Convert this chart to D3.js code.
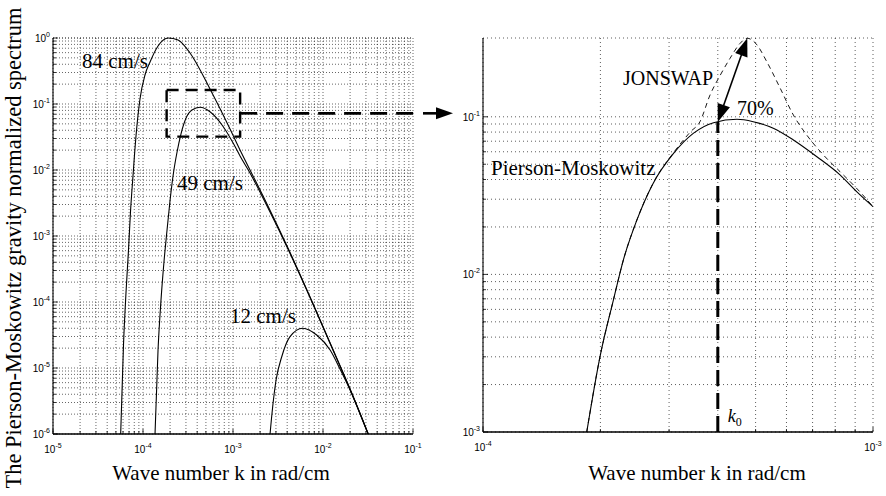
<!DOCTYPE html>
<html>
<head>
<meta charset="utf-8">
<script src="https://cdn.jsdelivr.net/npm/d3@7"></script>
<style>
  html, body { margin: 0; padding: 0; background: #fff; }
  svg { display: block; }
</style>
</head>
<body>
<svg id="chart" width="886" height="496"></svg>
<script>
// ---- Pierson-Moskowitz normalized spectra (wave number k in rad/cm) ----
const k84 = [5.65e-5, 6.07e-5, 6.47e-5, 6.90e-5, 7.26e-5, 7.74e-5, 8.36e-5, 9.26e-5, 1.052e-4, 1.197e-4, 1.469e-4, 1.91e-4,
             2.45e-4, 3.33e-4, 5.55e-4, 9.27e-4, 1.197e-3, 1.545e-3, 2.27e-3, 4.08e-3, 7.18e-3, 1.20e-2, 2.0e-2, 3.18e-2];
const s84 = [1.0e-6, 2.23e-5, 1.37e-4, 6.14e-4, 2.31e-3, 8.11e-3, 0.0327, 0.119, 0.275, 0.433, 0.757, 1.0,
             0.933, 0.593, 0.169, 0.0418, 0.0201, 0.0100, 3.51e-3, 6.58e-4, 1.19e-4, 2.39e-5, 4.81e-6, 1.0e-6];

const k49 = [1.36e-4, 1.469e-4, 1.585e-4, 1.71e-4, 1.85e-4, 2.0e-4, 2.18e-4, 2.39e-4, 2.64e-4, 3.01e-4, 3.50e-4, 4.30e-4,
             5.55e-4, 7.80e-4, 1.007e-3, 1.197e-3, 1.545e-3, 2.27e-3, 4.08e-3, 7.18e-3, 1.20e-2, 2.0e-2, 3.18e-2];
const s49 = [1.0e-6, 1.87e-5, 1.07e-4, 4.04e-4, 1.23e-3, 3.51e-3, 9.01e-3, 0.01875, 0.0351, 0.0614, 0.0811, 0.0891,
             0.0764, 0.0453, 0.0254, 0.0163, 9.01e-3, 3.27e-3, 6.35e-4, 1.17e-4, 2.35e-5, 4.72e-6, 0.99e-6];

const k12 = [2.58e-3, 2.76e-3, 3.01e-3, 3.48e-3, 4.30e-3, 5.94e-3, 8.51e-3, 1.20e-2, 1.545e-2, 2.0e-2, 3.18e-2];
const s12 = [1.0e-6, 2.59e-6, 6.58e-6, 1.48e-5, 2.98e-5, 4.00e-5, 3.16e-5, 1.87e-5, 9.66e-6, 4.64e-6, 1.0e-6];

const speedLabels = ["84 cm/s", "49 cm/s", "12 cm/s"];

// ---- Close-up: Pierson-Moskowitz vs JONSWAP around the peak ----
const kPM = [1.845e-4, 1.995e-4, 2.16e-4, 2.29e-4, 2.48e-4, 2.73e-4, 3.08e-4, 3.46e-4, 3.90e-4, 4.48e-4, 4.93e-4,
             5.55e-4, 6.25e-4, 7.18e-4, 8.23e-4, 9.08e-4, 1.0e-3];
const sPM = [1.0e-3, 3.0e-3, 6.89e-3, 0.01233, 0.0221, 0.0378, 0.0586, 0.0785, 0.0918, 0.0964, 0.0931,
             0.0846, 0.0713, 0.0558, 0.0428, 0.0335, 0.0269];

const kJS = [1.845e-4, 1.995e-4, 2.16e-4, 2.29e-4, 2.48e-4, 2.73e-4, 3.08e-4, 3.40e-4, 3.60e-4, 3.82e-4, 4.06e-4, 4.30e-4,
             4.56e-4, 4.76e-4, 5.04e-4, 5.34e-4, 5.78e-4, 6.25e-4, 6.76e-4, 7.46e-4, 8.23e-4, 8.91e-4, 9.27e-4, 1.0e-3];
const sJS = [1.0e-3, 3.0e-3, 6.89e-3, 0.01233, 0.0221, 0.0379, 0.0592, 0.0801, 0.0931, 0.1374, 0.184, 0.235,
             0.292, 0.315, 0.286, 0.224, 0.152, 0.1026, 0.0767, 0.0573, 0.0449, 0.0369, 0.0333, 0.0269];

const k0 = 4.0e-4;                 // peak wave number marker
const peakGainLabel = "70%";

// zoom window drawn on the overview (k range, S range)
const zoomK = [1.83e-4, 1.2e-3];
const zoomS = [0.032, 0.163];

// tick label exponents
const leftXExp  = [-5, -4, -3, -2, -1];
const leftYExp  = [0, -1, -2, -3, -4, -5, -6];
const rightXExp = [-4, -3];
const rightYExp = [-1, -2, -3];

const xTitle = "Wave number k in rad/cm";
const yTitle = "The Pierson-Moskowitz gravity normalized spectrum";

// ---------------------------------------------------------------------
const SERIF = "'Liberation Serif','Times New Roman',Times,serif";
const SANS  = "'Liberation Sans',Arial,Helvetica,sans-serif";

const svg = d3.select("#chart");

const xL = d3.scaleLog().domain([1e-5, 1e-1]).range([53, 413]);
const yL = d3.scaleLog().domain([1e-6, 1]).range([434, 38]);
const xR = d3.scaleLog().domain([1e-4, 1e-3]).range([483, 873]);
const yR = d3.scaleLog().domain([1e-3, Math.sqrt(0.1)]).range([432, 38]);

function gridValues(lo, hi, top) {
  const out = [];
  for (let e = lo; e < hi; e++) for (let m = 1; m <= 9; m++) out.push(m * Math.pow(10, e));
  out.push(Math.pow(10, hi));
  return top === undefined ? out : out.filter(v => v <= top * 1.0001);
}

function drawPanel(g, x, y, xGrid, yGrid, opts) {
  const [x0, x1] = x.range();
  const [y1, y0] = y.range();
  const grid = g.append("g")
    .attr("stroke", "#000")
    .attr("stroke-width", 0.8)
    .attr("stroke-dasharray", opts.dash)
    .attr("stroke-opacity", opts.gridOpacity)
    .attr("fill", "none");
  xGrid.forEach(v => grid.append("line")
    .attr("x1", x(v)).attr("x2", x(v)).attr("y1", y0).attr("y2", y1));
  yGrid.forEach(v => grid.append("line")
    .attr("x1", x0).attr("x2", x1).attr("y1", y(v)).attr("y2", y(v)));
  // top edge as a dotted line
  grid.append("line").attr("x1", x0).attr("x2", x1).attr("y1", y0).attr("y2", y0);

  // inward ticks
  const ticks = g.append("g").attr("stroke", "#000").attr("stroke-width", 0.8);
  xGrid.forEach(v => {
    const major = Math.abs(Math.log10(v) - Math.round(Math.log10(v))) < 1e-6;
    ticks.append("line").attr("x1", x(v)).attr("x2", x(v))
      .attr("y1", y1).attr("y2", y1 - (major ? 5 : 3));
  });
  yGrid.forEach(v => {
    const major = Math.abs(Math.log10(v) - Math.round(Math.log10(v))) < 1e-6;
    ticks.append("line").attr("y1", y(v)).attr("y2", y(v))
      .attr("x1", x0).attr("x2", x0 + (major ? 5 : 3));
  });

  // axis lines
  g.append("line").attr("x1", x0).attr("x2", x0).attr("y1", y0).attr("y2", y1)
    .attr("stroke", "#000").attr("stroke-width", 1.1);
  g.append("line").attr("x1", x0).attr("x2", x1).attr("y1", y1).attr("y2", y1)
    .attr("stroke", "#000").attr("stroke-width", 1.6);
}

function powLabel(g, px, py, exp, anchor) {
  const t = g.append("text")
    .attr("x", px).attr("y", py)
    .attr("text-anchor", anchor)
    .attr("font-family", SANS)
    .attr("font-size", 10)
    .attr("fill", "#000");
  t.append("tspan").text("10");
  t.append("tspan").attr("dy", -5).attr("font-size", 7).text(String(exp));
}

function tickLabels(g, x, y, xExp, yExp) {
  const yBase = y.range()[0];
  const xBase = x.range()[0];
  xExp.forEach(e => powLabel(g, x(Math.pow(10, e)), yBase + 19, e, "middle"));
  yExp.forEach(e => powLabel(g, xBase - 3, y(Math.pow(10, e)) + 4, e, "end"));
}

function curvePath(x, y) {
  return d3.line()
    .x(d => x(d[0]))
    .y(d => y(d[1]))
    .curve(d3.curveMonotoneX);
}

// clip regions
const defs = svg.append("defs");
defs.append("clipPath").attr("id", "clipL").append("rect")
  .attr("x", 53).attr("y", 38 - 2).attr("width", 360).attr("height", 396 + 2);
defs.append("clipPath").attr("id", "clipR").append("rect")
  .attr("x", 483).attr("y", 38 - 2).attr("width", 390).attr("height", 394 + 2);

// ================= overview panel =================
const gL = svg.append("g");
drawPanel(gL, xL, yL, gridValues(-5, -1), gridValues(-6, 0), { dash: "1,2", gridOpacity: 0.75 });
tickLabels(gL, xL, yL, leftXExp, leftYExp);

const lineL = curvePath(xL, yL);
const curvesL = gL.append("g").attr("clip-path", "url(#clipL)")
  .attr("fill", "none").attr("stroke", "#000").attr("stroke-width", 1.1);
[[k84, s84], [k49, s49], [k12, s12]].forEach(([k, s]) => {
  curvesL.append("path").attr("d", lineL(k.map((v, i) => [v, s[i]])));
});

// speed labels near each curve
const speedPos = [[82, 68], [177, 190], [230, 323]];
speedLabels.forEach((t, i) => {
  gL.append("text").attr("x", speedPos[i][0]).attr("y", speedPos[i][1])
    .attr("font-family", SERIF).attr("font-size", 21).attr("fill", "#000").text(t);
});

// zoom window
gL.append("rect")
  .attr("x", xL(zoomK[0])).attr("y", yL(zoomS[1]))
  .attr("width", xL(zoomK[1]) - xL(zoomK[0]))
  .attr("height", yL(zoomS[0]) - yL(zoomS[1]))
  .attr("fill", "none").attr("stroke", "#000").attr("stroke-width", 2.4)
  .attr("stroke-dasharray", "12,7");

// connecting arrow toward the close-up
const arrowY = yL(Math.sqrt(zoomS[0] * zoomS[1]));
const arrowStart = xL(zoomK[1]);
const arrowTip = xR.range()[0] - 30;
svg.append("line")
  .attr("x1", arrowStart).attr("x2", arrowTip - 32).attr("y1", arrowY).attr("y2", arrowY)
  .attr("stroke", "#000").attr("stroke-width", 2.6).attr("stroke-dasharray", "17,9");
svg.append("line")
  .attr("x1", arrowTip - 30).attr("x2", arrowTip - 10).attr("y1", arrowY).attr("y2", arrowY)
  .attr("stroke", "#000").attr("stroke-width", 2.6);
svg.append("path")
  .attr("d", `M${arrowTip},${arrowY} L${arrowTip - 17},${arrowY - 6} L${arrowTip - 17},${arrowY + 6} Z`)
  .attr("fill", "#000");

// ================= close-up panel =================
const gR = svg.append("g");
drawPanel(gR, xR, yR, gridValues(-4, -3), gridValues(-3, -1, Math.sqrt(0.1)), { dash: "1,3", gridOpacity: 0.8 });
tickLabels(gR, xR, yR, rightXExp, rightYExp);

const lineR = curvePath(xR, yR);
const curvesR = gR.append("g").attr("clip-path", "url(#clipR)").attr("fill", "none").attr("stroke", "#000");
curvesR.append("path").attr("d", lineR(kJS.map((v, i) => [v, sJS[i]])))
  .attr("stroke-width", 0.9).attr("stroke-dasharray", "5,4");
curvesR.append("path").attr("d", lineR(kPM.map((v, i) => [v, sPM[i]])))
  .attr("stroke-width", 1.1);

// value of the PM curve at k0 (log-log interpolation)
function logInterp(ks, ss, kq) {
  const i = d3.bisectRight(ks, kq) - 1;
  const t = (Math.log(kq) - Math.log(ks[i])) / (Math.log(ks[i + 1]) - Math.log(ks[i]));
  return Math.exp(Math.log(ss[i]) + t * (Math.log(ss[i + 1]) - Math.log(ss[i])));
}
const sAtK0 = logInterp(kPM, sPM, k0);
const jsPeak = d3.maxIndex(sJS);

// k0 marker
gR.append("line")
  .attr("x1", xR(k0)).attr("x2", xR(k0))
  .attr("y1", yR.range()[0]).attr("y2", yR(sAtK0))
  .attr("stroke", "#000").attr("stroke-width", 3).attr("stroke-dasharray", "16,7");

// double arrow: PM peak to JONSWAP peak
const pA = [xR(k0), yR(sAtK0)];
const pB = [xR(kJS[jsPeak]), yR(sJS[jsPeak])];
function head(tip, from, len, half) {
  const dx = tip[0] - from[0], dy = tip[1] - from[1];
  const L = Math.hypot(dx, dy), ux = dx / L, uy = dy / L;
  const bx = tip[0] - ux * len, by = tip[1] - uy * len;
  return `M${tip[0]},${tip[1]} L${bx - uy * half},${by + ux * half} L${bx + uy * half},${by - ux * half} Z`;
}
function along(p, q, d) {
  const dx = q[0] - p[0], dy = q[1] - p[1], L = Math.hypot(dx, dy);
  return [p[0] + dx / L * d, p[1] + dy / L * d];
}
const a1 = along(pA, pB, 14), b1 = along(pB, pA, 14);
gR.append("line").attr("x1", a1[0]).attr("y1", a1[1]).attr("x2", b1[0]).attr("y2", b1[1])
  .attr("stroke", "#000").attr("stroke-width", 1.6);
gR.append("path").attr("d", head(pA, pB, 18, 6.5)).attr("fill", "#000");
gR.append("path").attr("d", head(pB, pA, 18, 6.5)).attr("fill", "#000");

// annotations
gR.append("text").attr("x", 623).attr("y", 85)
  .attr("font-family", SERIF).attr("font-size", 20).text("JONSWAP");
gR.append("text").attr("x", 491).attr("y", 175)
  .attr("font-family", SERIF).attr("font-size", 21).text("Pierson-Moskowitz");
gR.append("text").attr("x", 737).attr("y", 115)
  .attr("font-family", SERIF).attr("font-size", 20).text(peakGainLabel);
const k0t = gR.append("text").attr("x", xR(k0) + 10).attr("y", 422)
  .attr("font-family", SERIF).attr("font-size", 18);
k0t.append("tspan").attr("font-style", "italic").text("k");
k0t.append("tspan").attr("dy", 4).attr("font-size", 12).text("0");

// axis titles
svg.append("text").attr("x", 221).attr("y", 480).attr("text-anchor", "middle")
  .attr("font-family", SERIF).attr("font-size", 21).text(xTitle);
svg.append("text").attr("x", 697).attr("y", 480).attr("text-anchor", "middle")
  .attr("font-family", SERIF).attr("font-size", 21).text(xTitle);
svg.append("text")
  .attr("transform", "translate(21,248) rotate(-90)")
  .attr("text-anchor", "middle")
  .attr("font-family", SERIF).attr("font-size", 22.5).text(yTitle);
</script>
</body>
</html>
